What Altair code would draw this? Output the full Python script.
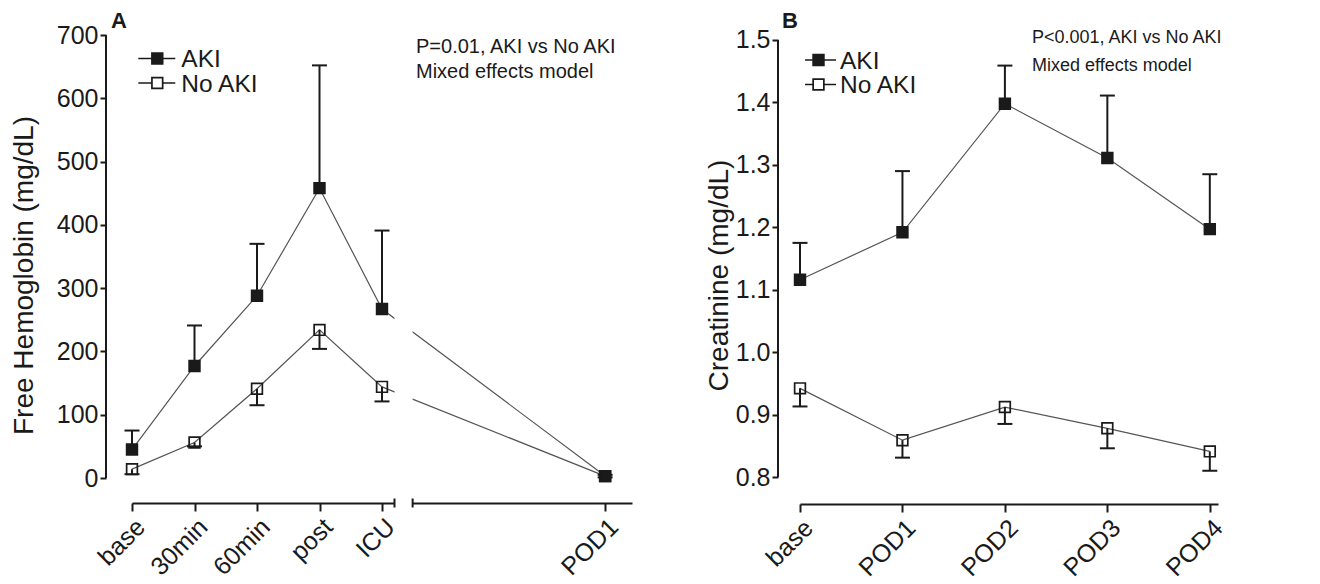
import altair as alt
import pandas as pd

FONT = "Liberation Sans"
INK = "#1a1a1a"

# ---------------- data ----------------
groups = ["AKI", "No AKI"]

# Panel A : free hemoglobin
a_labels = ["base", "30min", "60min", "post", "ICU", "POD1"]
a_pos = [0, 1, 2, 3, 4, 7.57]          # axis break between ICU and POD1
a_aki = [45, 177, 288, 458, 267, 3]
a_aki_upper = [75, 241, 370, 652, 391, 5]
a_noaki = [14, 56, 141, 234, 144, 3]
a_noaki_lower = [6, 50, 115, 204, 121, 1]
a_break = [4.2, 4.49]

# Panel B : creatinine
b_labels = ["base", "POD1", "POD2", "POD3", "POD4"]
b_pos = [0, 1, 2, 3, 4]
b_aki = [1.116, 1.192, 1.398, 1.311, 1.197]
b_aki_upper = [1.175, 1.290, 1.459, 1.411, 1.285]
b_noaki = [0.942, 0.859, 0.912, 0.878, 0.841]
b_noaki_lower = [0.913, 0.831, 0.885, 0.846, 0.810]

a_note = ["P=0.01, AKI vs No AKI", "Mixed effects model"]
b_note = ["P<0.001, AKI vs No AKI", "Mixed effects model"]


def make_df(pos, labels, aki, aki_err, noaki, noaki_err, cap):
    rows = []
    for p, l, v, e in zip(pos, labels, aki, aki_err):
        rows.append(dict(group="AKI", x=p, label=l, y=v, err=e, xl=p - cap, xr=p + cap))
    for p, l, v, e in zip(pos, labels, noaki, noaki_err):
        rows.append(dict(group="No AKI", x=p, label=l, y=v, err=e, xl=p - cap, xr=p + cap))
    return pd.DataFrame(rows)


def label_expr(pos, labels):
    expr = "''"
    for p, l in reversed(list(zip(pos, labels))):
        expr = f"datum.value == {p} ? '{l}' : " + expr
    return expr


def panel(df, xdom, ydom, yvals, yspan, yfmt, ytitle, tpad, yoff, pos, labels, W, H, xoff,
          leg, note, note_xy, note_size, note_gap, letter, letter_xy, brk=None):
    xs = alt.Scale(domain=xdom, nice=False, zero=False)
    ys = alt.Scale(domain=ydom, nice=False, zero=False)
    xaxis = alt.Axis(values=pos, labelExpr=label_expr(pos, labels), labelAngle=-45,
                     offset=xoff, tickSize=8, tickWidth=2, domainWidth=2,
                     domainColor=INK, tickColor=INK, labelFontSize=25, labelFont=FONT,
                     labelColor=INK, labelPadding=3, labelOverlap=False, labelFlush=False,
                     title=None, grid=False)
    yaxis = alt.Axis(values=yvals, format=yfmt, offset=yoff, tickSize=6, tickWidth=2,
                     domain=False, tickColor=INK, labelFontSize=25,
                     labelFont=FONT, labelColor=INK, labelPadding=2, title=ytitle,
                     titleFontSize=28, titleFont=FONT, titleFontWeight="normal",
                     titleColor=INK, titlePadding=tpad, titleY=240, grid=False,
                     labelOverlap=False)
    base = alt.Chart(df)
    X = alt.X("x:Q", scale=xs, axis=xaxis)
    Y = alt.Y("y:Q", scale=ys, axis=yaxis)
    tdf = pd.DataFrame({"t": [0]})

    lines = base.mark_line(color="#555", strokeWidth=1.2).encode(
        x=X, y=Y, detail="group:N", order="x:Q")
    ydomain_line = alt.Chart(tdf).mark_rule(color=INK, strokeWidth=2).encode(
        x=alt.value(-yoff), y=alt.datum(yspan[0], scale=ys), y2=alt.datum(yspan[1]))
    layers = [lines, ydomain_line]
    if brk is not None:
        bdf = pd.DataFrame({"x": [brk[0]], "x2": [brk[1]],
                            "y": [ydom[0] - (ydom[1] - ydom[0]) * 0.065],
                            "y2": [ydom[0] + (ydom[1] - ydom[0]) * 0.5]})
        gap = alt.Chart(bdf).mark_rect(color="white").encode(
            x=alt.X("x:Q", scale=xs), x2="x2:Q", y=alt.Y("y:Q", scale=ys), y2="y2:Q")
        layers.append(gap)
        cdf = pd.DataFrame({"x": brk})
        caps_axis = alt.Chart(cdf).mark_rule(color=INK, strokeWidth=2).encode(
            x=alt.X("x:Q", scale=xs), y=alt.value(H + xoff - 4.5),
            y2=alt.value(H + xoff + 4.5))
        layers.append(caps_axis)
    stems = base.mark_rule(color=INK, strokeWidth=2).encode(
        x=X, y=Y, y2="err:Q")
    caps = base.mark_rule(color=INK, strokeWidth=2).encode(
        x=alt.X("xl:Q", scale=xs), x2="xr:Q", y=alt.Y("err:Q", scale=ys))
    pts = base.mark_point(shape="square", size=115, strokeWidth=1.7, opacity=1).encode(
        x=X, y=Y,
        fill=alt.condition(alt.datum.group == "AKI", alt.value(INK), alt.value("transparent")),
        stroke=alt.value(INK))
    layers += [stems, caps, pts]

    # legend (line + square + label per group)
    lx0, lx1, sqx, tx, rows = leg
    for g, cy in zip(groups, rows):
        layers.append(alt.Chart(tdf).mark_rule(color=INK, strokeWidth=1.5).encode(
            x=alt.value(lx0), x2=alt.value(lx1), y=alt.value(cy)))
        layers.append(alt.Chart(tdf).mark_point(
            shape="square", size=115, strokeWidth=1.7, opacity=1, stroke=INK,
            fill=INK if g == "AKI" else "white").encode(
            x=alt.value(sqx), y=alt.value(cy)))
        layers.append(alt.Chart(tdf).mark_text(
            text=g, align="left", baseline="alphabetic", font=FONT, fontSize=24.5,
            color=INK).encode(x=alt.value(tx), y=alt.value(cy + 8.7)))

    for i, line in enumerate(note):
        layers.append(alt.Chart(tdf).mark_text(
            text=line, align="left", baseline="alphabetic", font=FONT,
            fontSize=note_size, color=INK).encode(
            x=alt.value(note_xy[0]), y=alt.value(note_xy[1] + note_gap * i)))
    layers.append(alt.Chart(tdf).mark_text(
        text=letter, align="left", baseline="alphabetic", font=FONT, fontSize=22,
        fontWeight="bold", color=INK).encode(
        x=alt.value(letter_xy[0]), y=alt.value(letter_xy[1])))
    return alt.layer(*layers).properties(width=W, height=H)


dfa = make_df(a_pos, a_labels, a_aki, a_aki_upper, a_noaki, a_noaki_lower, 0.12)
dfb = make_df(b_pos, b_labels, b_aki, b_aki_upper, b_noaki, b_noaki_lower, 0.073)

pa = panel(dfa, [0, 8], [0, 700], list(range(0, 701, 100)), (0, 700), "d",
           "Free Hemoglobin (mg/dL)", 18, 26, a_pos, a_labels, 500, 443, 25,
           (6.3, 43.3, 25.3, 49.3, (23.5, 48.0)),
           a_note, (284, 18), 20, 25, "A", (-21, -7), brk=a_break)
pb = panel(dfb, [0, 4.08], [0.8, 1.508], [0.8, 0.9, 1.0, 1.1, 1.2, 1.3, 1.4, 1.5],
           (0.8, 1.5), ".1f", "Creatinine (mg/dL)", 2, 22, b_pos, b_labels, 418, 442, 27,
           (5, 36, 18.5, 40, (25.0, 49.5)),
           b_note, (232, 8), 18, 28, "B", (-18, -7))

chart = alt.hconcat(pa, pb, spacing=73).properties(
    padding={"left": 2, "top": 2, "right": 2, "bottom": 2}
).configure_view(stroke=None)

chart.save("out.html", embed_options={"renderer": "svg", "actions": False})
